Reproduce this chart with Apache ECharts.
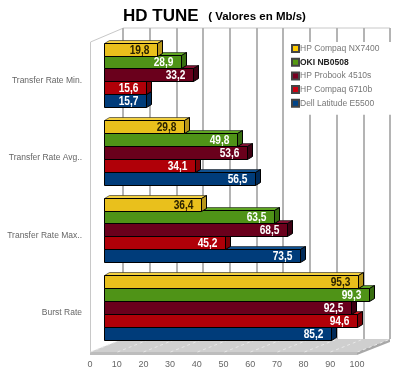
<!DOCTYPE html>
<html><head><meta charset="utf-8">
<style>html,body{margin:0;padding:0;background:#fff}#c{width:400px;height:373px}</style>
<script src="https://cdn.jsdelivr.net/npm/echarts@6/dist/echarts.min.js"></script>
</head><body><div id="c"></div>
<script>
const categories = ['Transfer Rate Min.', 'Transfer Rate Avg..', 'Transfer Rate Max..', 'Burst Rate'];
const ticks = [0, 10, 20, 30, 40, 50, 60, 70, 80, 90, 100];
const seriesNames = ['HP Compaq NX7400', 'OKI NB0508', 'HP Probook 4510s', 'HP Compaq 6710b', 'Dell Latitude E5500'];
const nx7400 = [19.8, 29.8, 36.4, 95.3];
const oki = [28.9, 49.8, 63.5, 99.3];
const probook = [33.2, 53.6, 68.5, 92.5];
const compaq6710 = [15.6, 34.1, 45.2, 94.6];
const dell = [15.7, 56.5, 73.5, 85.2];
const seriesValues = [nx7400, oki, probook, compaq6710, dell];
const frontColors = ['#E9C01C', '#4F9317', '#6A001C', '#B00008', '#003C7A'];
const topColors = ['#F2D040', '#5FA522', '#7E1030', '#C41018', '#10508E'];
const sideColors = ['#B8961A', '#386E10', '#3E0012', '#7E0006', '#002A58'];
const legendColors = ['#FFCC00', '#559911', '#770022', '#CC0011', '#004488'];
const labelColors = ['#2a2200', '#fff', '#fff', '#fff', '#fff'];

const chart = echarts.init(document.getElementById('c'));
const shiftX = 14, slot = 12.9, depthX = 5, depthY = 3;

function barItem(i) {
  return function (params, api) {
    const end = api.coord([api.value(0), api.value(1)]);
    const start = api.coord([0, api.value(1)]);
    const x0 = Math.round(start[0] + shiftX) + 0.5;
    const x1 = Math.round(end[0] + shiftX) + 0.5;
    const y0 = Math.round(end[1] - 5.5 + (i - 2.5) * slot) + 0.5;
    const h = Math.round(slot);
    const line = { stroke: '#000', lineWidth: 1 };
    return {
      type: 'group',
      children: [
        { type: 'polygon', shape: { points: [[x0, y0], [x0 + depthX, y0 - depthY], [x1 + depthX, y0 - depthY], [x1, y0]] },
          style: Object.assign({ fill: topColors[i] }, { stroke: '#222', lineWidth: 0.6 }) },
        { type: 'polygon', shape: { points: [[x1, y0], [x1 + depthX, y0 - depthY], [x1 + depthX, y0 + h - depthY], [x1, y0 + h]] },
          style: Object.assign({ fill: sideColors[i] }, line) },
        { type: 'rect', shape: { x: x0, y: y0, width: x1 - x0, height: h },
          style: Object.assign({ fill: frontColors[i] }, line) },
        { type: 'text', x: x1 - 8, y: y0 + h / 2 + 0.5, scaleX: 0.85, style: {
            x: 0, y: 0, text: String(api.value(0)).replace('.', ','),
            align: 'right', verticalAlign: 'middle', fill: labelColors[i],
            font: 'bold 12px "Liberation Sans"' } }
      ]
    };
  };
}

function floorLine(params, api) {
  const p = api.coord([api.value(0), 3]);
  const x = Math.round(p[0]) + 0.5;
  return { type: 'line', shape: { x1: x, y1: 352, x2: x + 33, y2: 339 },
    style: { stroke: '#e8e8e8', lineWidth: 1, lineDash: [3, 3] } };
}

const barSeries = seriesNames.map((name, i) => ({
  type: 'custom', name, xAxisIndex: 0, yAxisIndex: 0, z: 10 - i,
  coordinateSystem: 'cartesian2d', clip: false,
  itemStyle: { color: legendColors[i], borderColor: '#444', borderWidth: 1 },
  encode: { x: 0, y: 1 },
  renderItem: barItem(i),
  data: seriesValues[i].map((v, c) => [v, c])
}));

chart.setOption({
  animation: false,
  backgroundColor: '#fff',
  textStyle: { fontFamily: '"Liberation Sans"' },
  title: {
    left: 123, top: 8, padding: 0,
    text: '{a|HD TUNE}{b|   ( Valores en Mb/s)}',
    textStyle: { rich: {
      a: { fontFamily: '"Liberation Sans"', fontWeight: 'bold', fontSize: 17, color: '#000' },
      b: { fontFamily: '"Liberation Sans"', fontWeight: 'bold', fontSize: 11.5, color: '#000' }
    } }
  },
  legend: {
    left: 284, top: 42, orient: 'vertical', selectedMode: false,
    padding: [2, 12, 7, 7], itemWidth: 7, itemHeight: 7, itemGap: 4.7,
    backgroundColor: '#fff', icon: 'rect',
    textStyle: { fontSize: 8.5, color: '#777', padding: [0, 0, 0, -4], fontFamily: '"Liberation Sans"' },
    data: seriesNames.map((name, i) => i === 1
      ? { name, textStyle: { fontWeight: 'bold', color: '#222' } } : { name })
  },
  graphic: [
    { type: 'polyline', silent: true, z: 0, shape: { points: [[90.5, 352], [90.5, 42], [123.5, 28], [390, 28]] },
      style: { stroke: '#c8c8c8', lineWidth: 1, fill: null } },
    { type: 'polygon', silent: true, z: 0, shape: { points: [[90, 352], [123, 339], [390, 339], [357, 352]] },
      style: { fill: '#cfcfcf' } },
    { type: 'polygon', silent: true, z: 0, shape: { points: [[90, 352], [357, 352], [357, 355], [90, 355]] },
      style: { fill: '#bdbdbd' } },
    { type: 'polygon', silent: true, z: 0, shape: { points: [[357, 352], [390, 339], [390, 342], [357, 355]] },
      style: { fill: '#a8a8a8' } }
  ],
  grid: [
    { left: 90, width: 267, top: 41.5, height: 310, outerBoundsMode: 'none' },
    { left: 123, width: 267, top: 28, height: 311, outerBoundsMode: 'none' }
  ],
  xAxis: [
    { gridIndex: 0, type: 'value', min: 0, max: 100, interval: 10,
      axisLine: { show: false }, axisTick: { show: false }, splitLine: { show: false },
      axisLabel: { color: '#666', fontSize: 9, margin: 9, hideOverlap: false, showMinLabel: true, showMaxLabel: true } },
    { gridIndex: 1, type: 'value', min: 0, max: 100, interval: 10,
      axisLine: { show: false }, axisTick: { show: false }, axisLabel: { show: false },
      splitLine: { show: true, lineStyle: { color: '#b4b4b4', width: 2 } } }
  ],
  yAxis: [
    { gridIndex: 0, type: 'category', inverse: true, data: categories,
      axisLine: { show: false }, axisTick: { show: false }, splitLine: { show: false },
      axisLabel: { color: '#666', fontSize: 8.5, margin: 8 } },
    { gridIndex: 1, type: 'category', inverse: true, data: categories, show: false }
  ],
  series: [
    { type: 'custom', name: 'floor', xAxisIndex: 0, yAxisIndex: 0, z: 1, clip: false,
      encode: { x: 0 }, renderItem: floorLine, data: ticks.map(t => [t]) }
  ].concat(barSeries)
});
</script></body></html>
